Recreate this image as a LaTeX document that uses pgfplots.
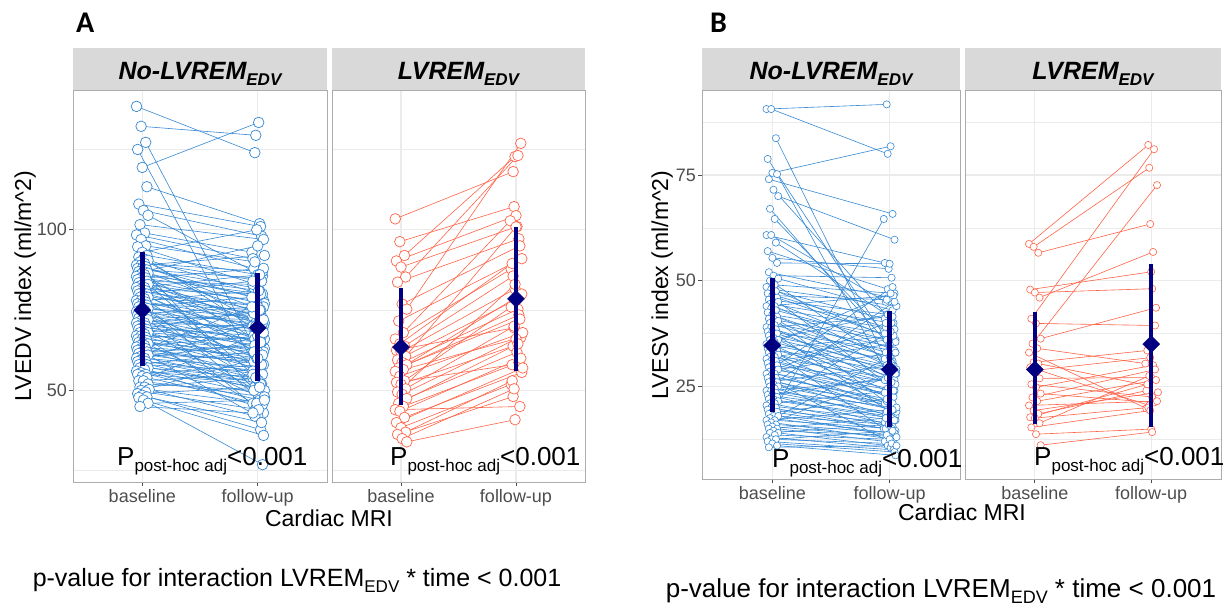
\documentclass[border=0pt]{standalone}
\usepackage{pgfplots}
\usepackage{pgfplotstable}
\pgfplotsset{compat=1.18}
\usepackage{fontspec}
\setmainfont{Liberation Sans}
\newfontfamily\carlito{Carlito}
\newcommand\fs[1]{\fontsize{#1}{#1}\selectfont}
\definecolor{bl}{HTML}{3588D4}
\definecolor{tom}{HTML}{FF6347}
\definecolor{nv}{HTML}{000080}
\definecolor{gridc}{HTML}{EBEBEB}
\definecolor{stripc}{HTML}{D9D9D9}
\definecolor{tickc}{HTML}{4D4D4D}

% ---------- A: LVEDV, No-LVREM ----------
\pgfplotstableread{
b f
138.4 124.0
132.2 129.4
127.2 62.0
125.0 56.0
119.4 133.4
113.4 101.9
108.0 101.0
106.0 98.0
104.5 85.6
101.6 97.0
99.0 93.0
98.4 91.0
97.0 88.0
95.0 90.0
94.7 83.0
93.0 100.0
92.0 86.0
91.5 71.0
91.0 80.0
90.5 68.0
90.0 84.0
89.5 87.0
89.0 78.0
89.0 92.0
88.5 76.0
88.0 82.0
88.0 50.0
87.5 85.0
87.0 79.0
87.0 95.0
86.5 74.0
86.0 81.0
86.0 65.0
85.5 70.0
85.0 80.0
85.0 88.0
84.5 77.0
84.0 83.0
84.0 62.0
83.5 72.0
83.0 78.0
83.0 54.0
82.5 75.0
82.0 68.0
82.0 86.0
81.5 80.0
81.0 73.0
81.0 61.0
80.5 76.0
80.0 71.0
80.0 84.0
79.5 74.0
79.0 66.0
79.0 58.0
78.5 77.0
78.0 72.0
78.0 81.0
77.5 69.0
77.0 75.0
77.0 47.0
76.5 64.0
76.0 70.0
76.0 79.0
75.5 73.0
75.0 67.0
75.0 56.0
74.5 71.0
74.0 60.0
74.0 76.0
73.5 68.0
73.0 72.0
73.0 52.0
72.5 65.0
72.0 69.0
72.0 43.0
71.5 63.0
71.0 70.0
71.0 74.0
70.5 66.0
70.0 61.0
70.0 50.0
69.5 67.0
69.0 64.0
69.0 75.0
68.5 58.0
68.0 65.0
68.0 71.0
67.5 62.0
67.0 66.0
67.0 46.0
66.5 59.0
66.0 63.0
66.0 70.0
65.5 57.0
65.0 62.0
65.0 48.0
64.5 60.0
64.0 55.0
64.0 67.0
63.5 61.0
63.0 58.0
63.0 76.0
62.5 54.0
62.0 59.0
62.0 64.0
61.5 56.0
61.0 60.0
61.0 42.0
60.5 53.0
60.0 57.0
60.0 65.0
59.5 52.0
59.0 55.0
59.0 72.0
58.5 50.0
58.0 56.0
58.0 62.0
57.5 51.0
57.0 54.0
57.0 45.0
56.5 49.0
56.0 53.0
55.5 47.0
55.0 52.0
55.0 58.0
54.4 45.6
54.0 68.0
53.0 48.0
53.0 55.0
52.0 50.0
51.0 42.0
51.0 54.0
50.3 46.0
50.0 60.0
49.5 44.0
49.0 51.0
48.5 37.8
48.0 40.0
47.8 26.9
47.0 36.0
46.0 47.0
45.0 43.0
}\tblAL

% ---------- A: LVEDV, LVREM ----------
\pgfplotstableread{
b f
103.4 118.1
96.3 107.2
92.0 122.8
90.3 104.4
88.4 101.0
85.3 123.1
83.7 97.2
76.9 95.0
75.3 126.9
71.6 91.0
68.0 102.8
66.0 87.8
64.5 89.5
63.8 85.6
62.5 69.5
62.0 81.6
60.6 100.9
59.5 78.4
58.7 75.3
58.0 73.5
57.0 72.2
56.5 66.5
55.9 80.0
54.4 68.0
53.0 76.0
52.5 58.0
51.9 63.8
50.5 70.0
49.5 83.0
48.8 66.0
47.5 61.9
46.0 64.5
45.0 58.7
44.0 45.0
43.5 60.0
41.6 55.6
40.0 57.0
38.4 51.9
37.0 53.0
36.3 48.1
35.0 50.5
34.0 40.9
}\tblAR

% ---------- B: LVESV, No-LVREM ----------
\pgfplotstableread{
b f
90.6 91.7
90.6 80.0
83.7 30.0
78.8 35.0
75.5 81.8
75.2 26.0
74.0 65.8
71.5 40.0
70.0 59.7
67.0 33.0
64.6 38.0
60.8 54.2
60.8 45.0
59.0 42.0
57.0 48.0
55.4 52.8
54.2 54.0
52.0 46.0
51.2 50.7
50.5 43.0
50.0 30.0
49.0 47.0
48.5 36.0
48.0 44.0
47.5 41.0
47.0 39.0
46.5 45.5
46.0 37.0
45.5 42.0
45.0 34.0
45.0 25.0
44.5 40.0
44.0 31.0
44.0 46.5
43.5 38.5
43.0 35.5
42.5 29.0
42.0 37.5
41.5 33.0
41.0 36.0
41.0 21.0
40.5 27.0
40.0 34.5
39.5 32.0
39.0 30.5
39.0 41.5
38.5 25.0
38.0 33.5
38.0 18.0
37.5 28.0
37.0 31.5
36.5 24.0
36.0 30.0
36.0 42.0
35.5 27.5
35.0 29.5
35.0 47.0
34.5 22.0
34.0 28.5
34.0 37.0
33.5 26.5
33.0 25.5
33.0 15.0
32.5 21.0
32.0 27.0
32.0 36.0
31.5 24.5
31.0 23.0
31.0 35.0
30.5 20.0
30.0 26.0
30.0 48.5
29.5 22.5
29.0 24.0
29.0 33.0
28.5 19.0
28.0 23.5
28.0 40.0
27.5 21.5
27.0 22.0
27.0 12.0
26.5 18.0
26.0 20.5
26.0 30.0
25.5 21.0
25.0 19.5
25.0 45.0
24.5 17.0
24.0 20.0
24.0 26.5
23.5 18.5
23.0 19.0
23.0 27.0
22.5 16.0
22.0 18.0
22.0 38.0
21.5 17.5
21.0 15.5
21.0 24.0
20.5 17.0
20.0 14.5
20.0 64.6
19.5 16.5
19.0 15.0
19.0 22.0
18.5 13.5
18.0 16.0
18.0 32.0
17.5 14.0
17.0 15.0
17.0 19.5
16.5 12.5
16.0 14.0
16.0 28.0
15.5 13.0
15.0 12.0
15.0 17.5
14.5 13.5
14.0 11.0
14.0 16.0
13.5 12.5
13.0 10.5
12.5 11.5
12.5 14.5
12.0 10.0
11.5 9.5
11.0 8.7
10.6 11.0
}\tblBL

% ---------- B: LVESV, LVREM ----------
\pgfplotstableread{
b f
58.7 82.1
58.0 76.7
56.6 63.4
47.9 52.1
47.2 48.1
46.0 56.8
41.0 81.1
39.9 39.4
36.3 43.6
35.1 72.6
34.0 30.4
33.0 19.8
30.7 33.5
30.4 25.2
29.5 20.5
28.8 31.8
26.9 27.1
25.5 22.5
24.8 30.0
23.3 21.2
22.4 29.0
21.5 26.5
20.5 21.5
19.3 23.6
18.5 24.0
17.7 25.5
17.5 20.0
16.3 27.5
15.3 19.3
13.7 14.9
11.1 14.2
}\tblBR

% horizontal jitter of the points (position only)
\newcommand\addjit[1]{%
  \pgfplotstablecreatecol[create col/expr={1+0.05*(mod(\pgfplotstablerow*37,11)/5-1)}]{xb}{#1}%
  \pgfplotstablecreatecol[create col/expr={2+0.05*(mod(\pgfplotstablerow*53+3,13)/6-1)}]{xf}{#1}}
\addjit\tblAL
\addjit\tblAR
\addjit\tblBL
\addjit\tblBR

\pgfplotsset{
  facet/.style={
    scale only axis, anchor=north west,
    xmin=0.4, xmax=2.6, xtick={1,2}, xticklabels={baseline,follow-up},
    grid=both,
    major grid style={gridc, line width=1.1pt},
    minor grid style={gridc, line width=0.55pt},
    axis line style={gray!65, line width=0.8pt},
    tick align=outside, major tick length=4pt, minor tick length=0pt,
    tick pos=left,
    tick style={tickc, line width=0.8pt},
    ticklabel style={font=\fs{18}, text=tickc},
    xticklabel style={inner sep=1pt, yshift=-2pt},
    yticklabel style={inner sep=2pt},
    clip marker paths=true,
    /pgf/number format/assume math mode=true,
  },
  noyt/.style={yticklabels={}, ytick style={draw=none}},
  meanmark/.style={only marks, mark=square*, mark size=6pt, mark options={draw=nv, fill=nv, rotate=45}},
}

\begin{document}
\begin{tikzpicture}[x=1pt,y=1pt]
\useasboundingbox (0,0) rectangle (1228,-605);

% ================= PANEL A =================
\begin{axis}[facet, at={(73pt,-90pt)}, width=254pt, height=392pt,
  ymin=21.5, ymax=143.5, ytick={50,100}, minor ytick={25,75,125}]
  \addplot[bl, line width=0.6pt, quiver={u=\thisrow{xf}-\thisrow{xb}, v=\thisrow{f}-\thisrow{b}}] table[x=xb,y=b]{\tblAL};
  \addplot[only marks, mark=*, mark size=5.3pt, mark options={draw=bl, fill=white, line width=0.7pt}] table[x=xb,y=b]{\tblAL};
  \addplot[only marks, mark=*, mark size=5.3pt, mark options={draw=bl, fill=white, line width=0.7pt}] table[x=xf,y=f]{\tblAL};
  \addplot[nv, line width=4.5pt] coordinates {(1,57.5) (1,93)};
  \addplot[nv, line width=4.5pt] coordinates {(2,53) (2,86.5)};
  \addplot[meanmark] coordinates {(1,75) (2,69.5)};
\end{axis}
\begin{axis}[facet, noyt, at={(332pt,-90pt)}, width=253pt, height=392pt,
  ymin=21.5, ymax=143.5, ytick={50,100}, minor ytick={25,75,125}]
  \addplot[tom, line width=0.6pt, quiver={u=\thisrow{xf}-\thisrow{xb}, v=\thisrow{f}-\thisrow{b}}] table[x=xb,y=b]{\tblAR};
  \addplot[only marks, mark=*, mark size=5.3pt, mark options={draw=tom, fill=white, line width=0.7pt}] table[x=xb,y=b]{\tblAR};
  \addplot[only marks, mark=*, mark size=5.3pt, mark options={draw=tom, fill=white, line width=0.7pt}] table[x=xf,y=f]{\tblAR};
  \addplot[nv, line width=4.5pt] coordinates {(1,45.5) (1,82)};
  \addplot[nv, line width=4.5pt] coordinates {(2,56) (2,101)};
  \addplot[meanmark] coordinates {(1,63.5) (2,78.5)};
\end{axis}

% ================= PANEL B =================
\begin{axis}[facet, at={(702pt,-90pt)}, width=258pt, height=389pt,
  ymin=3.1, ymax=95.1, ytick={25,50,75}, minor ytick={12.5,37.5,62.5,87.5}]
  \addplot[bl, line width=0.6pt, quiver={u=\thisrow{xf}-\thisrow{xb}, v=\thisrow{f}-\thisrow{b}}] table[x=xb,y=b]{\tblBL};
  \addplot[only marks, mark=*, mark size=3.6pt, mark options={draw=bl, fill=white, line width=0.6pt}] table[x=xb,y=b]{\tblBL};
  \addplot[only marks, mark=*, mark size=3.6pt, mark options={draw=bl, fill=white, line width=0.6pt}] table[x=xf,y=f]{\tblBL};
  \addplot[nv, line width=4.5pt] coordinates {(1,19) (1,50.7)};
  \addplot[nv, line width=4.5pt] coordinates {(2,15.3) (2,42.8)};
  \addplot[meanmark] coordinates {(1,34.7) (2,29)};
\end{axis}
\begin{axis}[facet, noyt, at={(965pt,-90pt)}, width=256pt, height=389pt,
  ymin=3.1, ymax=95.1, ytick={25,50,75}, minor ytick={12.5,37.5,62.5,87.5}]
  \addplot[tom, line width=0.6pt, quiver={u=\thisrow{xf}-\thisrow{xb}, v=\thisrow{f}-\thisrow{b}}] table[x=xb,y=b]{\tblBR};
  \addplot[only marks, mark=*, mark size=3.6pt, mark options={draw=tom, fill=white, line width=0.6pt}] table[x=xb,y=b]{\tblBR};
  \addplot[only marks, mark=*, mark size=3.6pt, mark options={draw=tom, fill=white, line width=0.6pt}] table[x=xf,y=f]{\tblBR};
  \addplot[nv, line width=4.5pt] coordinates {(1,16) (1,42.5)};
  \addplot[nv, line width=4.5pt] coordinates {(2,15.5) (2,54)};
  \addplot[meanmark] coordinates {(1,29) (2,35)};
\end{axis}

% strips
\fill[stripc] (73,-48) rectangle (327,-90);
\fill[stripc] (332,-48) rectangle (585,-90);
\fill[stripc] (702,-48) rectangle (960,-90);
\fill[stripc] (965,-48) rectangle (1221,-90);
\foreach \cx/\t in {200/No-LVREM, 458.5/LVREM, 831/No-LVREM, 1093/LVREM}{
  \node[anchor=base, inner sep=0pt, font=\fs{25}\bfseries\itshape] at (\cx,-79) {\t\raisebox{-6.5pt}{\fs{17}EDV}};
}

% panel letters
\node[anchor=base west, inner sep=0pt, font=\carlito\bfseries\fs{30}] at (76,-32) {A};
\node[anchor=base west, inner sep=0pt, font=\carlito\bfseries\fs{30}] at (710,-32) {B};

% y-axis titles
\node[rotate=90, anchor=base, inner sep=0pt, font=\fs{23}] at (31,-286) {LVEDV index (ml/m\textasciicircum 2)};
\node[rotate=90, anchor=base, inner sep=0pt, font=\fs{23}] at (668,-285) {LVESV index (ml/m\textasciicircum 2)};

% x-axis titles
\node[anchor=center, inner sep=0pt, font=\fs{23}] at (329,-518) {Cardiac MRI};
\node[anchor=center, inner sep=0pt, font=\fs{23}] at (962,-512) {Cardiac MRI};

% post-hoc p values
\foreach \px/\py in {117/-465, 390/-465, 772/-467, 1034/-465}{
  \node[anchor=base west, inner sep=0pt, font=\fs{26}] at (\px,\py) {P\raisebox{-6.5pt}{\fs{17}post-hoc adj}<0.001};
}

% interaction p values
\node[anchor=base, inner sep=0pt, font=\fs{25}] at (297,-586) {p-value for interaction LVREM\raisebox{-6.5pt}{\fs{17}EDV} * time < 0.001};
\node[anchor=base, inner sep=0pt, font=\fs{26}] at (941,-597) {p-value for interaction LVREM\raisebox{-6.5pt}{\fs{18}EDV} * time < 0.001};
\end{tikzpicture}
\end{document}
